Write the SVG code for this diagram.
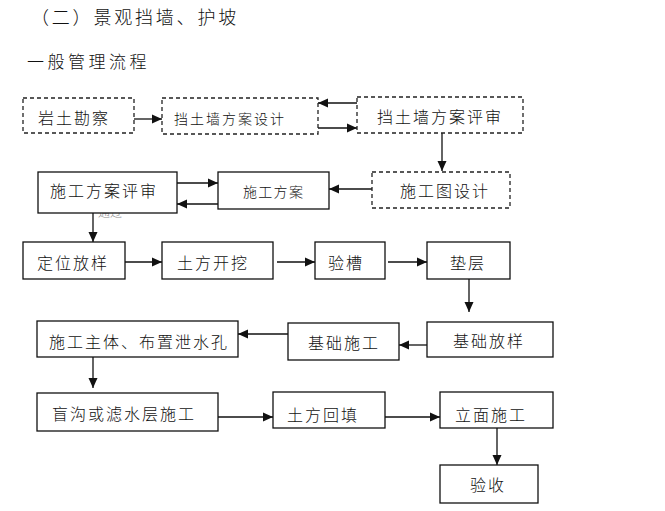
<svg xmlns="http://www.w3.org/2000/svg" width="665" height="511" viewBox="0 0 665 511">
<style>
text{font-family:"Noto Sans CJK SC","Noto Sans CJK JP",sans-serif;fill:#111;dominant-baseline:central;font-weight:300}
.b{fill:#fff;stroke:#111;stroke-width:1.3}
.d{fill:#fff;stroke:#222;stroke-width:1.3;stroke-dasharray:4 3}
.t{font-size:16px;letter-spacing:2px}
.s{font-size:14px;letter-spacing:2px}
.c line{stroke:#111;stroke-width:1.3;marker-end:url(#a)}
</style>
<defs>
<marker id="a" markerUnits="userSpaceOnUse" markerWidth="10" markerHeight="10" viewBox="0 0 10 10" refX="10" refY="5" orient="auto">
<path d="M0,0.5 L10,5 L0,9.5 Z" fill="#111"/>
</marker>
</defs>
<rect width="665" height="511" fill="#fff"/>
<text x="31" y="16" style="font-size:18px;letter-spacing:2.8px">（二）景观挡墙、护坡</text>
<text x="27" y="60" style="font-size:17px;letter-spacing:3.5px">一般管理流程</text>
<text x="98" y="211" style="font-size:12px;fill:#888">通过</text>
<g class="c">
<line x1="134" y1="119" x2="162" y2="119"/>
<line x1="357" y1="103" x2="318" y2="103"/>
<line x1="318" y1="128" x2="357" y2="128"/>
<line x1="442" y1="133" x2="442" y2="171"/>
<line x1="372" y1="189" x2="329" y2="189"/>
<line x1="177" y1="183" x2="218" y2="183"/>
<line x1="218" y1="204" x2="177" y2="204"/>
<line x1="93" y1="213" x2="93" y2="242"/>
<line x1="125" y1="262" x2="162" y2="262"/>
<line x1="277" y1="262" x2="315" y2="262"/>
<line x1="388" y1="262" x2="427" y2="262"/>
<line x1="469" y1="279" x2="469" y2="312"/>
<line x1="427" y1="345" x2="399" y2="345"/>
<line x1="288" y1="334" x2="238" y2="334"/>
<line x1="93" y1="357" x2="93" y2="388"/>
<line x1="218" y1="417" x2="273" y2="417"/>
<line x1="385" y1="417" x2="440" y2="417"/>
<line x1="497" y1="428" x2="497" y2="465"/>
</g>
<g id="n1"><rect class="d" x="23" y="98" width="111" height="35"/><text class="t" x="38" y="117">岩土勘察</text></g>
<g id="n2"><rect class="d" x="162" y="98" width="156" height="36"/><text class="s" x="174" y="118">挡土墙方案设计</text></g>
<g id="n3"><rect class="d" x="357" y="97" width="166" height="36"/><text class="t" x="377" y="116">挡土墙方案评审</text></g>
<g id="n4"><rect class="d" x="372" y="172" width="138" height="36"/><text class="t" x="400" y="190">施工图设计</text></g>
<g id="n5"><rect class="b" x="218" y="172" width="111" height="37"/><text class="s" x="243" y="191" style="letter-spacing:1.3px">施工方案</text></g>
<g id="n6"><rect class="b" x="38" y="172" width="139" height="41"/><text class="t" x="50" y="190">施工方案评审</text></g>
<g id="n7"><rect class="b" x="23" y="242" width="102" height="37"/><text class="t" x="37" y="262">定位放样</text></g>
<g id="n8"><rect class="b" x="162" y="242" width="111" height="37"/><text class="t" x="177" y="262">土方开挖</text></g>
<g id="n9"><rect class="b" x="315" y="242" width="70" height="37"/><text class="t" x="328" y="262">验槽</text></g>
<g id="n10"><rect class="b" x="427" y="242" width="83" height="37"/><text class="t" x="450" y="262">垫层</text></g>
<g id="n11"><rect class="b" x="427" y="322" width="126" height="35"/><text class="t" x="453" y="340">基础放样</text></g>
<g id="n12"><rect class="b" x="288" y="323" width="111" height="37"/><text class="t" x="308" y="342">基础施工</text></g>
<g id="n13"><rect class="b" x="37" y="321" width="201" height="36"/><text class="t" x="49" y="341">施工主体、布置泄水孔</text></g>
<g id="n14"><rect class="b" x="37" y="393" width="181" height="38"/><text class="t" x="52" y="413">盲沟或滤水层施工</text></g>
<g id="n15"><rect class="b" x="273" y="392" width="112" height="36"/><text class="t" x="287" y="414">土方回填</text></g>
<g id="n16"><rect class="b" x="440" y="392" width="113" height="36"/><text class="t" x="455" y="414">立面施工</text></g>
<g id="n17"><rect class="b" x="440" y="465" width="98" height="38"/><text class="t" x="470" y="484">验收</text></g>
</svg>
